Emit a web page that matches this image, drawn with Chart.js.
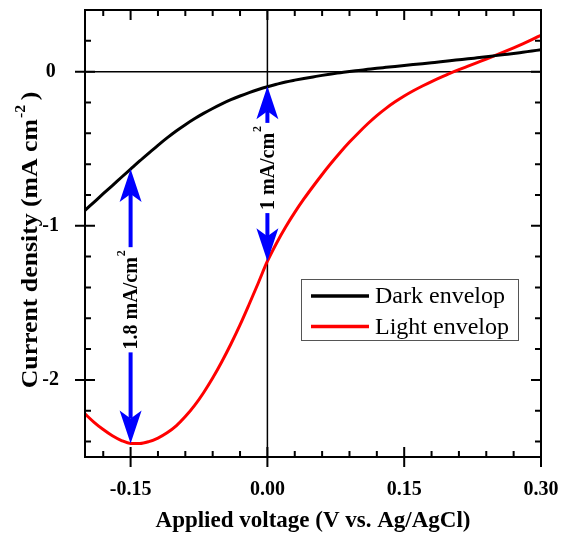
<!DOCTYPE html>
<html>
<head>
<meta charset="utf-8">
<script src="https://cdn.jsdelivr.net/npm/chart.js@4.4.1/dist/chart.umd.min.js"></script>
<style>
  html, body { margin: 0; padding: 0; background: #fff; }
  #wrap { width: 562px; height: 535px; position: relative; }
</style>
</head>
<body>
<div id="wrap"><canvas id="c" width="562" height="535"></canvas></div>
<script>
// ---- data ----
const voltage = [-0.20,-0.19,-0.18,-0.17,-0.16,-0.15,-0.14,-0.13,-0.12,-0.11,-0.10,-0.09,-0.08,-0.07,-0.06,-0.05,-0.04,-0.03,-0.02,-0.01,
  0.00,0.01,0.02,0.03,0.04,0.05,0.06,0.07,0.08,0.09,0.10,0.11,0.12,0.13,0.14,0.15,0.16,0.17,0.18,0.19,0.20,0.21,0.22,0.23,0.24,0.25,0.26,0.27,0.28,0.29,0.30];
const darkCurrent = [-0.900,-0.846,-0.792,-0.739,-0.685,-0.632,-0.579,-0.528,-0.478,-0.430,-0.385,-0.344,-0.306,-0.271,-0.239,-0.209,-0.182,-0.158,-0.136,-0.116,
  -0.098,-0.082,-0.067,-0.055,-0.044,-0.034,-0.024,-0.015,-0.007,0.001,0.008,0.015,0.022,0.028,0.034,0.040,0.046,0.052,0.058,0.064,0.071,0.077,0.083,0.090,0.097,0.104,0.111,0.118,0.126,0.134,0.142];
const lightCurrent = [-2.220,-2.275,-2.322,-2.362,-2.393,-2.412,-2.412,-2.400,-2.377,-2.343,-2.298,-2.238,-2.167,-2.083,-1.988,-1.882,-1.767,-1.643,-1.509,-1.371,
  -1.230,-1.113,-1.008,-0.913,-0.826,-0.745,-0.667,-0.593,-0.523,-0.457,-0.396,-0.338,-0.285,-0.238,-0.196,-0.158,-0.124,-0.093,-0.064,-0.037,-0.011,0.013,0.036,0.059,0.082,0.106,0.130,0.155,0.181,0.208,0.236];
const seriesNames = ['Dark envelop', 'Light envelop'];
const xTicks = [-0.15, 0.00, 0.15, 0.30];
const xMinorTicks = [-0.18,-0.12,-0.09,-0.06,-0.03,0.03,0.06,0.09,0.12,0.18,0.21,0.24,0.27];
const yTicks = [0, -1, -2];
const yMinorTicks = [0.2,-0.2,-0.4,-0.6,-0.8,-1.2,-1.4,-1.6,-1.8,-2.2,-2.4];
const arrowX = [-0.15, 0.00];
const arrowTop = [-0.632, -0.095];
const arrowBottom = [-2.412, -1.230];
const arrowLabel = ['1.8 mA/cm', '1 mA/cm'];
const arrowLabelSup = ['2', '2'];
const arrowLabelAt = [-1.48, -0.625];
const yTitleMain = 'Current density (mA cm';
const yTitleSup = '-2';
const yTitleEnd = ')';

const SERIF = '"Liberation Serif", "Times New Roman", serif';

const toXY = (ys) => voltage.map((v, i) => ({x: v, y: ys[i]}));
const noPad = (s) => { s.paddingLeft = 0; s.paddingRight = 0; s.paddingTop = 0; s.paddingBottom = 0; };

const decor = {
  id: 'decor',
  beforeDatasetsDraw(chart) {
    const {ctx, chartArea: a, scales: {x, y}} = chart;
    ctx.save();
    ctx.strokeStyle = '#000';
    ctx.lineWidth = 1.5;
    const x0 = x.getPixelForValue(0), y0 = y.getPixelForValue(0);
    ctx.beginPath();
    ctx.moveTo(a.left, y0); ctx.lineTo(a.right, y0);
    ctx.moveTo(x0, a.top); ctx.lineTo(x0, a.bottom);
    ctx.stroke();
    ctx.restore();
  },
  afterDatasetsDraw(chart) {
    const {ctx, chartArea: a, scales: {x, y}} = chart;
    ctx.save();
    ctx.strokeStyle = '#000';
    ctx.lineWidth = 2;
    ctx.strokeRect(a.left, a.top, a.right - a.left, a.bottom - a.top);
    ctx.beginPath();
    xTicks.forEach(v => {
      const p = x.getPixelForValue(v);
      ctx.moveTo(p, a.bottom + 10); ctx.lineTo(p, a.bottom - 10);
      ctx.moveTo(p, a.top); ctx.lineTo(p, a.top + 10);
    });
    xMinorTicks.forEach(v => {
      const p = x.getPixelForValue(v);
      ctx.moveTo(p, a.bottom); ctx.lineTo(p, a.bottom - 6);
      ctx.moveTo(p, a.top); ctx.lineTo(p, a.top + 6);
    });
    yTicks.forEach(v => {
      const p = y.getPixelForValue(v);
      ctx.moveTo(a.left - 10, p); ctx.lineTo(a.left + 10, p);
      ctx.moveTo(a.right, p); ctx.lineTo(a.right - 10, p);
    });
    yMinorTicks.forEach(v => {
      const p = y.getPixelForValue(v);
      ctx.moveTo(a.left, p); ctx.lineTo(a.left + 6, p);
      ctx.moveTo(a.right, p); ctx.lineTo(a.right - 6, p);
    });
    ctx.stroke();

    // y axis title with superscript
    ctx.save();
    ctx.translate(31, 240);
    ctx.rotate(-Math.PI / 2);
    ctx.scale(1.12, 1);
    ctx.font = 'bold 23px ' + SERIF;
    const m1 = ctx.measureText(yTitleMain).width;
    const m3 = ctx.measureText(yTitleEnd).width;
    ctx.font = 'bold 14px ' + SERIF;
    const m2 = ctx.measureText(yTitleSup).width;
    const total = m1 + m2 + 5 + m3;
    let sx = -total / 2;
    ctx.fillStyle = '#000';
    ctx.textBaseline = 'middle';
    ctx.textAlign = 'left';
    ctx.font = 'bold 23px ' + SERIF;
    ctx.fillText(yTitleMain, sx, 0);
    ctx.font = 'bold 14px ' + SERIF;
    ctx.fillText(yTitleSup, sx + m1 + 1, -10);
    ctx.font = 'bold 23px ' + SERIF;
    ctx.fillText(yTitleEnd, sx + m1 + m2 + 5, 0);
    ctx.restore();

    const blue = '#0000ff';
    arrowX.forEach((v, i) => {
      const px = x.getPixelForValue(v);
      const yt = y.getPixelForValue(arrowTop[i]);
      const yb = y.getPixelForValue(arrowBottom[i]);
      const hl = 33, hw = 11, notch = 25;
      ctx.strokeStyle = blue;
      ctx.lineWidth = 4;
      ctx.beginPath();
      ctx.moveTo(px, yt + notch); ctx.lineTo(px, yb - notch);
      ctx.stroke();
      ctx.fillStyle = blue;
      ctx.beginPath();
      ctx.moveTo(px, yt); ctx.lineTo(px + hw, yt + hl); ctx.lineTo(px, yt + notch); ctx.lineTo(px - hw, yt + hl); ctx.closePath();
      ctx.fill();
      ctx.beginPath();
      ctx.moveTo(px, yb); ctx.lineTo(px + hw, yb - hl); ctx.lineTo(px, yb - notch); ctx.lineTo(px - hw, yb - hl); ctx.closePath();
      ctx.fill();
      const cy = y.getPixelForValue(arrowLabelAt[i]);
      ctx.save();
      ctx.translate(px, cy);
      ctx.rotate(-Math.PI / 2);
      ctx.font = 'bold 20px ' + SERIF;
      const w1 = ctx.measureText(arrowLabel[i]).width;
      ctx.font = 'bold 12px ' + SERIF;
      const w2 = ctx.measureText(arrowLabelSup[i]).width;
      const tw = w1 + w2 + 1;
      ctx.fillStyle = '#fff';
      ctx.fillRect(-tw / 2 - 3, -8, tw + 6, 16);
      ctx.fillStyle = '#000';
      ctx.textBaseline = 'middle';
      ctx.textAlign = 'left';
      ctx.font = 'bold 20px ' + SERIF;
      ctx.fillText(arrowLabel[i], -tw / 2, 1);
      ctx.font = 'bold 12px ' + SERIF;
      ctx.fillText(arrowLabelSup[i], -tw / 2 + w1 + 1, -9);
      ctx.restore();
    });

    const lx = 301, ly = 279, lw = 217, lh = 61;
    ctx.fillStyle = '#fff';
    ctx.fillRect(lx, ly, lw, lh);
    ctx.strokeStyle = '#555';
    ctx.lineWidth = 1;
    ctx.strokeRect(lx + 0.5, ly + 0.5, lw, lh);
    chart.data.datasets.forEach((ds, i) => {
      const yy = ly + 17 + i * 30.5;
      ctx.strokeStyle = ds.borderColor;
      ctx.lineWidth = 3.5;
      ctx.beginPath();
      ctx.moveTo(lx + 10, yy); ctx.lineTo(lx + 68, yy);
      ctx.stroke();
      ctx.fillStyle = '#000';
      ctx.font = '24px ' + SERIF;
      ctx.textBaseline = 'middle';
      ctx.textAlign = 'left';
      ctx.fillText(ds.label, lx + 74, yy + 1);
    });
    ctx.restore();
  }
};

new Chart(document.getElementById('c'), {
  type: 'line',
  data: {
    datasets: [
      { label: seriesNames[0], data: toXY(darkCurrent), borderColor: '#000000', borderWidth: 3, pointRadius: 0, cubicInterpolationMode: 'monotone', fill: false },
      { label: seriesNames[1], data: toXY(lightCurrent), borderColor: '#ff0000', borderWidth: 3, pointRadius: 0, cubicInterpolationMode: 'monotone', fill: false }
    ]
  },
  options: {
    responsive: false,
    animation: false,
    events: [],
    layout: { padding: { left: 0, right: 21, top: 10, bottom: 0 } },
    plugins: { legend: { display: false }, tooltip: { enabled: false } },
    scales: {
      x: {
        type: 'linear', min: -0.2, max: 0.3,
        grid: { display: false }, border: { display: false },
        afterBuildTicks: (s) => { s.ticks = xTicks.map(v => ({ value: v })); },
        afterFit: (s) => { s.height = 78; noPad(s); },
        ticks: { color: '#000', padding: 13, maxRotation: 0, autoSkip: false,
          font: { family: SERIF, size: 20, weight: 'bold' },
          callback: (v) => Number(v).toFixed(2) },
        title: { display: true, text: 'Applied voltage (V vs. Ag/AgCl)', color: '#000',
          font: { family: SERIF, size: 23, weight: 'bold' }, padding: { top: 0, bottom: 0 } }
      },
      y: {
        type: 'linear', min: -2.5, max: 0.4,
        grid: { display: false }, border: { display: false },
        afterBuildTicks: (s) => { s.ticks = yTicks.map(v => ({ value: v })); },
        afterFit: (s) => { s.width = 85; noPad(s); },
        ticks: { color: '#000', padding: 18, crossAlign: 'center', autoSkip: false,
          font: { family: SERIF, size: 20, weight: 'bold' },
          callback: (v) => String(v) },
        title: { display: false }
      }
    }
  },
  plugins: [decor]
});
</script>
</body>
</html>
